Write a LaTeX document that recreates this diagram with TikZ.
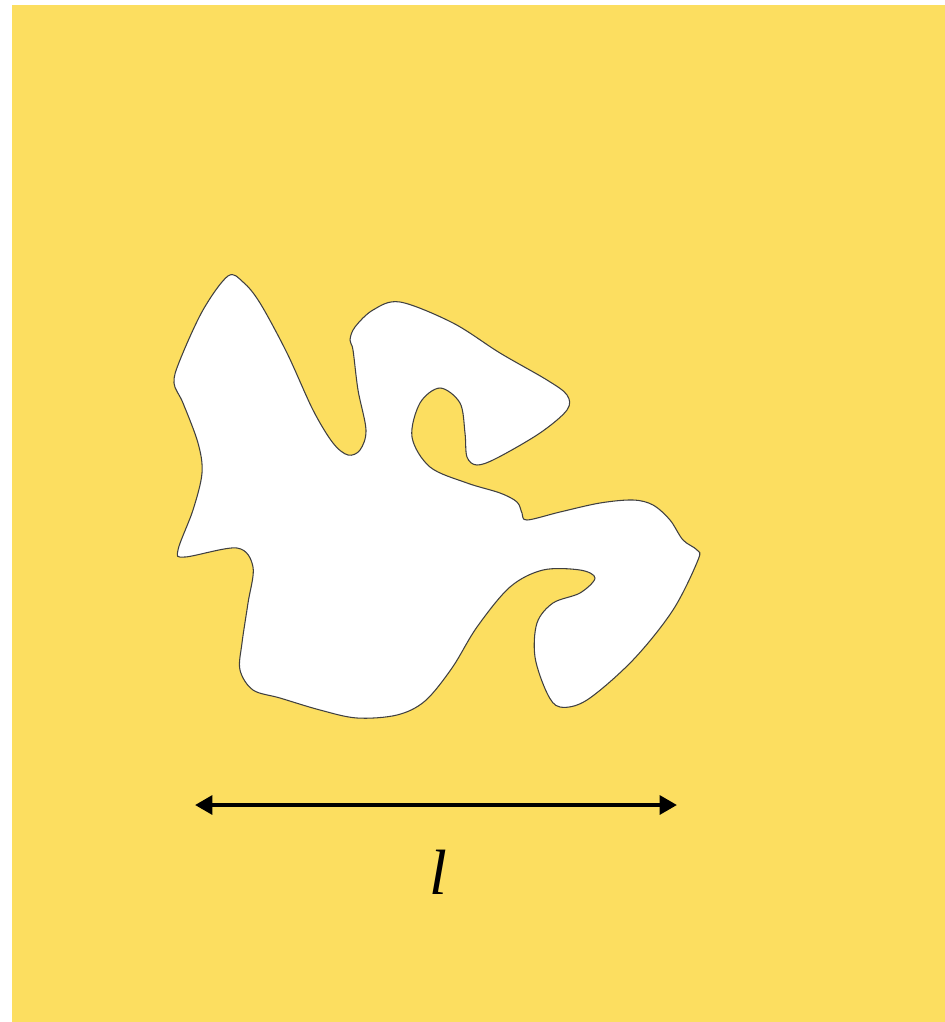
\documentclass[tikz,border=0pt]{standalone}
\usepackage{fontspec}
\setmainfont{Liberation Serif}
\usetikzlibrary{arrows.meta}
\definecolor{bgyellow}{RGB}{252,222,96}
\begin{document}
\begin{tikzpicture}
[x=0.75pt,y=-0.75pt,
 blob/.style={fill=white, draw=black!75, line width=0.8pt},
 lenarrow/.style={line width=3pt, {Triangle[length=13pt,width=14pt]}-{Triangle[length=13pt,width=14pt]}}]
\def \tens {0.55} % tension of the outline
\useasboundingbox (0,0) rectangle (945,1022);
\fill[white] (0,0) rectangle (945,1022);
\fill[bgyellow] (12,5) rectangle (945,1022);
% the region
\draw[blob] plot[smooth cycle, tension=\tens] coordinates {
  (228,276) (243,282) (260,303) (287,353) (313,410) (333,443) (348,455)
  (360,450) (366,430) (358,390) (353,350) (350,340) (355,327) (373,310)
  (400,302) (453,323) (500,353) (547,380) (567,395) (567,410) (540,433)
  (497,458) (477,465) (467,457) (465,433) (460,403) (440,388) (420,403)
  (412,437) (430,467) (467,483) (500,493) (517,502) (522,513) (527,520)
  (560,512) (600,503) (633,500) (653,505) (670,520) (683,540) (697,550)
  (698,560) (673,610) (633,660) (587,700) (560,707) (547,693) (535,657)
  (537,623) (553,603) (580,593) (595,578) (580,570) (543,570) (510,587)
  (477,627) (452,668) (425,701) (397,715) (357,718) (320,710) (280,698)
  (253,690) (240,670) (242,643) (248,603) (253,567) (237,548) (185,557)
  (178,550) (193,510) (202,473) (198,443) (183,403) (174,383) (180,360)
  (203,310)};
% length scale
\coordinate (lend) at (195,805);
\coordinate (rend) at (677,805);
\draw[lenarrow] (lend) -- (rend);
\node (len) at (438,872) {\fontsize{48}{48}\selectfont\itshape l};
\end{tikzpicture}
\end{document}
